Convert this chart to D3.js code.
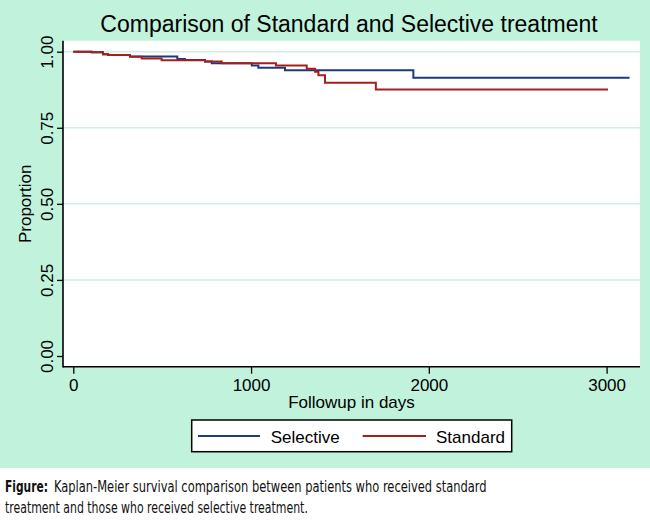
<!DOCTYPE html>
<html><head><meta charset="utf-8">
<script src="https://cdn.jsdelivr.net/npm/d3@7"></script>
<style>
html,body{margin:0;padding:0;background:#fff;}
svg{display:block;}
</style></head>
<body>
<svg id="chart" width="650" height="522"></svg>
<script>
// ---- data ----
const selectiveDays = [0, 103, 167, 196, 319, 585, 628, 741, 779, 1004, 1041, 1191, 1913, 3129];
const selectiveSurv = [1.0, 0.998, 0.992, 0.989, 0.984, 0.976, 0.973, 0.968, 0.962, 0.955, 0.947, 0.939, 0.914, 0.914];
const standardDays = [0, 103, 167, 196, 319, 385, 497, 741, 835, 1140, 1313, 1360, 1379, 1416, 1702, 3008];
const standardSurv = [1.0, 0.998, 0.992, 0.989, 0.983, 0.978, 0.972, 0.968, 0.962, 0.955, 0.944, 0.934, 0.923, 0.898, 0.876, 0.876];
const xTicks = [0, 1000, 2000, 3000];
const yTicks = [0, 0.25, 0.5, 0.75, 1];
const seriesNames = ["Selective", "Standard"];
const seriesColors = ["#1c3a7c", "#a3201f"];
const titleText = "Comparison of Standard and Selective treatment";
const xTitle = "Followup in days";
const yTitle = "Proportion";
const captionBold = "Figure:";
const captionLine1 = "Kaplan-Meier survival comparison between patients who received standard";
const captionLine2 = "treatment and those who received selective treatment.";

const svg = d3.select("#chart");
const bg = "#c0f2dc";
const plot = {left: 63, right: 640, top: 40.7, bottom: 366.7};

svg.append("rect").attr("x",0).attr("y",0).attr("width",650).attr("height",468).attr("fill",bg);

const x = d3.scaleLinear().domain([0, 3000]).range([73.3, 606.6]);
const y = d3.scaleLinear().domain([0, 1]).range([356, 51.7]);

svg.append("rect").attr("x",plot.left).attr("y",plot.top)
  .attr("width",plot.right-plot.left).attr("height",plot.bottom-plot.top).attr("fill","#fff");

// gridlines
svg.append("g").selectAll("line").data(yTicks.filter(d=>d>0)).join("line")
  .attr("x1",plot.left).attr("x2",plot.right)
  .attr("y1",d=>y(d)).attr("y2",d=>y(d))
  .attr("stroke","#cbf1e1").attr("stroke-width",1.5);

// curves
const line = d3.line().x(d=>x(d[0])).y(d=>y(d[1])).curve(d3.curveStepAfter);
const series = [
  {name: seriesNames[0], color: seriesColors[0], pts: d3.zip(selectiveDays, selectiveSurv)},
  {name: seriesNames[1], color: seriesColors[1], pts: d3.zip(standardDays, standardSurv)}
];
svg.append("g").selectAll("path").data(series).join("path")
  .attr("d",d=>line(d.pts)).attr("fill","none")
  .attr("stroke",d=>d.color).attr("stroke-width",2);

// axes
const fontAx = "'Liberation Sans', Arial, Helvetica, sans-serif";
const xAxis = d3.axisBottom(x).tickValues(xTicks).tickSize(7).tickPadding(5).tickFormat(d3.format("d"));
const gx = svg.append("g").attr("transform",`translate(0,${plot.bottom})`).call(xAxis);
gx.select(".domain").remove();
gx.selectAll("line").attr("stroke","#000").attr("stroke-width",1.3);
gx.selectAll("text").attr("font-family",fontAx).attr("font-size",17).attr("fill","#000");

const yAxis = d3.axisLeft(y).tickValues(yTicks).tickSize(6).tickPadding(0).tickFormat(d3.format(".2f"));
const gy = svg.append("g").attr("transform",`translate(${plot.left},0)`).call(yAxis);
gy.select(".domain").remove();
gy.selectAll("line").attr("stroke","#000").attr("stroke-width",1.3);
gy.selectAll("text").attr("font-family",fontAx).attr("font-size",17).attr("fill","#000")
  .attr("x",0).attr("dy",0).attr("text-anchor","middle")
  .attr("transform","translate(-10,0) rotate(-90)");

svg.append("line").attr("x1",plot.left).attr("x2",plot.left).attr("y1",plot.top).attr("y2",plot.bottom+0.8)
  .attr("stroke","#000").attr("stroke-width",1.6);
svg.append("line").attr("x1",plot.left).attr("x2",plot.right).attr("y1",plot.bottom).attr("y2",plot.bottom)
  .attr("stroke","#000").attr("stroke-width",1.6);

// titles
svg.append("text").attr("x",349).attr("y",32).attr("text-anchor","middle")
  .attr("font-family",fontAx).attr("font-size",23).attr("fill","#000").text(titleText);
svg.append("text").attr("x",(plot.left+plot.right)/2).attr("y",408).attr("text-anchor","middle")
  .attr("font-family",fontAx).attr("font-size",17).attr("fill","#000").text(xTitle);
svg.append("text").attr("transform",`translate(31,${y(0.5)}) rotate(-90)`).attr("text-anchor","middle")
  .attr("font-family",fontAx).attr("font-size",17).attr("fill","#000").text(yTitle);

// legend
const lg = svg.append("g");
lg.append("rect").attr("x",191.7).attr("y",420).attr("width",320).attr("height",31.7)
  .attr("fill","#fff").attr("stroke","#000").attr("stroke-width",1.5);
const legendItems = [{lx1:198,lx2:260,tx:270.7},{lx1:362.7,lx2:426,tx:436}];
legendItems.forEach((it,i)=>{
  lg.append("line").attr("x1",it.lx1).attr("x2",it.lx2).attr("y1",436).attr("y2",436)
    .attr("stroke",seriesColors[i]).attr("stroke-width",2);
  lg.append("text").attr("x",it.tx).attr("y",442.5).attr("font-family",fontAx).attr("font-size",17)
    .attr("fill","#000").text(seriesNames[i]);
});

// caption (condensed text, horizontally scaled to the reference widths)
const capFont = "'Liberation Sans Narrow', 'DejaVu Sans Condensed', 'Arial Narrow', sans-serif";
function capText(str, x0, y0, width, bold){
  const t = svg.append("text").attr("x",0).attr("y",0).attr("font-family",capFont)
    .attr("font-size",16.5).attr("fill","#111").attr("font-weight",bold?"bold":"normal").text(str);
  const w = t.node().getComputedTextLength();
  t.attr("transform",`translate(${x0},${y0}) scale(${width/w},1)`);
}
capText(captionBold, 5, 492, 43, true);
capText(captionLine1, 54, 492, 433, false);
capText(captionLine2, 5, 513, 303, false);
</script>
</body></html>
